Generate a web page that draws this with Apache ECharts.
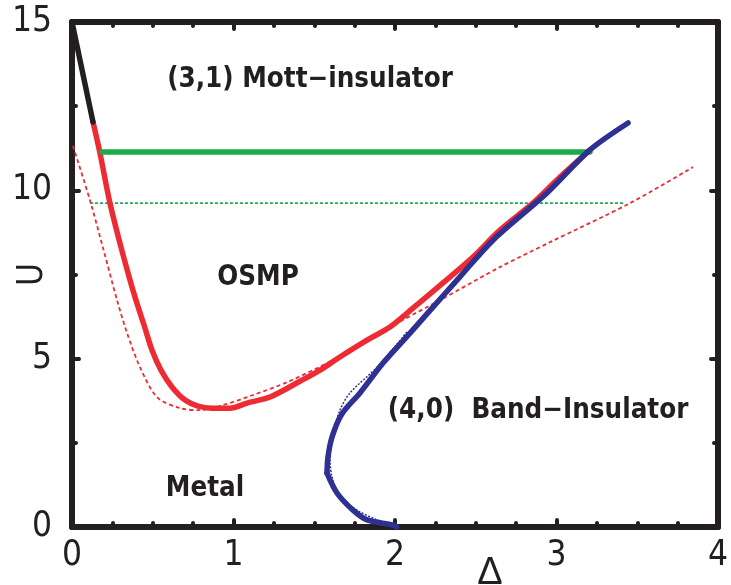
<!DOCTYPE html>
<html><head><meta charset="utf-8">
<script src="https://cdn.jsdelivr.net/npm/echarts@6/dist/echarts.min.js"></script>
<style>html,body{margin:0;padding:0;background:#fff}#c{width:731px;height:585px}</style>
</head><body><div id="c"></div>
<script>
// ---- data ----
const xTickLabels = ['0','1','2','3','4'];
const yTickLabels = ['0','5','10','15'];

const blackDelta = [0, 0.13];
const blackU     = [15, 12.03];

const redDelta = [0.13, 0.173, 0.235, 0.303, 0.359, 0.396, 0.446, 0.495, 0.551, 0.619, 0.700, 0.780, 0.867, 0.978, 1.084, 1.226, 1.412, 1.536, 1.659, 1.827, 1.969, 2.111, 2.297, 2.483, 2.65, 2.854, 3.02, 3.207];
const redU     = [12.03, 11.11, 9.62, 8.32, 7.34, 6.74, 6.00, 5.26, 4.66, 4.16, 3.77, 3.59, 3.53, 3.53, 3.68, 3.86, 4.33, 4.66, 5.05, 5.55, 5.94, 6.50, 7.25, 8.02, 8.82, 9.62, 10.39, 11.2];

const redDotDelta = [0.006, 0.111, 0.192, 0.279, 0.341, 0.421, 0.526, 0.669, 0.793, 0.935, 1.121, 1.331, 1.616, 1.827, 2.03, 2.279, 2.65, 2.96, 3.455, 3.845];
const redDotU     = [11.32, 9.71, 8.29, 6.74, 5.76, 4.75, 3.86, 3.53, 3.47, 3.62, 3.92, 4.30, 4.96, 5.55, 6.10, 6.74, 7.72, 8.46, 9.62, 10.69];

const greenDelta = [0.186, 1.98, 3.207];
const greenU     = [11.14, 11.14, 11.14];

const greenDotDelta = [0.111, 3.42];
const greenDotU     = [9.62, 9.62];

// upper branch ends at the kink (index 12), lower branch starts there
const blueDelta = [3.443, 3.207, 2.941, 2.607, 2.402, 2.235, 2.093, 1.926, 1.783, 1.67, 1.61, 1.585, 1.579, 1.641, 1.74, 1.827, 1.988, 2.01];
const blueU     = [12.0, 11.2, 9.92, 8.52, 7.43, 6.53, 5.76, 4.87, 3.98, 3.35, 2.67, 2.08, 1.60, 1.01, 0.50, 0.21, 0.06, 0];
const blueKink = 12;

const blueDotDelta = [2.074, 1.889, 1.721, 1.659, 1.61, 1.598, 1.61, 1.659, 1.765, 1.889, 2.012];
const blueDotU     = [5.79, 4.75, 3.98, 3.47, 2.67, 1.99, 1.49, 0.89, 0.50, 0.21, 0];

const phaseNames = ['(3,1) Mott\u2212insulator', 'OSMP', '(4,0)  Band\u2212Insulator', 'Metal'];
const phaseDelta = [1.474, 1.152, 2.886, 0.824];
const phaseU     = [13.28, 7.40, 3.45, 1.13];

// ---- chart ----
const pairs = (xs, ys) => xs.map((x, i) => [x, ys[i]]);
const INK = '#231f20';
const RED = '#ee2a33', GREEN = '#1aab4b', BLUE = '#2e3192';
const tickFont = "'Liberation Sans Narrow','DejaVu Sans Condensed','Liberation Sans',sans-serif";

function makeAxis(kind, position, showLabel) {
  const isX = kind === 'x';
  return {
    type: 'value', position,
    min: 0, max: isX ? 4 : 15, interval: isX ? 1 : 5,
    nameMoveOverlap: false,
    axisLine: { show: true, onZero: false, lineStyle: { color: INK, width: 6, cap: 'round' } },
    axisTick: { show: true, inside: true, length: 7, lineStyle: { color: INK, width: 4, cap: 'round' } },
    minorTick: { show: true, splitNumber: isX ? 4 : 2, length: 4, lineStyle: { color: INK, width: 4, cap: 'round' } },
    splitLine: { show: false }, minorSplitLine: { show: false },
    axisLabel: {
      show: showLabel, margin: isX ? 11 : 20, color: INK, fontSize: 35, fontFamily: tickFont,
      formatter: v => (isX ? xTickLabels : yTickLabels)[Math.round(v / (isX ? 1 : 5))]
    }
  };
}

const xBottom = Object.assign(makeAxis('x', 'bottom', true), {
  name: '\u0394', nameLocation: 'middle', nameGap: 28,
  nameTextStyle: { fontSize: 38, color: INK, fontFamily: "'Liberation Sans','DejaVu Sans',sans-serif", padding: [0, 0, 0, 190], verticalAlign: 'top' }
});
const yLeft = Object.assign(makeAxis('y', 'left', true), {
  name: 'U', nameLocation: 'middle', nameGap: 22, nameRotate: 90,
  nameTextStyle: { fontSize: 35, color: INK, fontFamily: tickFont }
});

const chart = echarts.init(document.getElementById('c'), null, { renderer: 'canvas' });
chart.setOption({
  animation: false,
  backgroundColor: '#fff',
  grid: { left: 72, right: 13, top: 22, bottom: 58, containLabel: false, outerBoundsMode: 'none' },
  xAxis: [xBottom, makeAxis('x', 'top', false)],
  yAxis: [yLeft, makeAxis('y', 'right', false)],
  series: [
    { type: 'line', data: pairs(greenDotDelta, greenDotU), symbol: 'none', lineStyle: { color: GREEN, width: 1.8, type: [3, 2] }, z: 2 },
    { type: 'line', data: pairs(redDotDelta, redDotU), symbol: 'none', smooth: 0.3, lineStyle: { color: RED, width: 1.8, type: [4, 3] }, z: 2 },
    { type: 'line', data: pairs(redDelta, redU), symbol: 'none', smooth: 0.3, lineStyle: { color: RED, width: 5.5, cap: 'round', join: 'round' }, z: 3 },
    { type: 'line', data: pairs(greenDelta, greenU), symbol: 'none', lineStyle: { color: GREEN, width: 5.5, cap: 'round' }, z: 3 },
    { type: 'line', data: pairs(blueDotDelta, blueDotU), symbol: 'none', smooth: 0.3, lineStyle: { color: BLUE, width: 1.5, type: [2, 1.5] }, z: 4 },
    { type: 'line', data: pairs(blueDelta.slice(0, blueKink + 1), blueU.slice(0, blueKink + 1)), symbol: 'none', smooth: 0.3, lineStyle: { color: BLUE, width: 5.5, cap: 'round', join: 'round' }, z: 5 },
    { type: 'line', data: pairs(blueDelta.slice(blueKink), blueU.slice(blueKink)), symbol: 'none', smooth: 0.3, lineStyle: { color: BLUE, width: 5.5, cap: 'round', join: 'round' }, z: 5 },
    { type: 'line', data: pairs(blackDelta, blackU), symbol: 'none', lineStyle: { color: INK, width: 5.5, cap: 'round' }, z: 5 },
    {
      type: 'scatter', symbolSize: 1, itemStyle: { color: 'rgba(0,0,0,0)' }, z: 6, silent: true,
      data: phaseNames.map((n, i) => ({ name: n, value: [phaseDelta[i], phaseU[i]] })),
      label: { show: true, position: 'inside', formatter: '{b}', color: INK, opacity: 1, textBorderWidth: 0,
               fontSize: 27.5, fontWeight: 'bold', fontFamily: "'DejaVu Sans Condensed','DejaVu Sans',sans-serif" }
    }
  ]
});
</script></body></html>
